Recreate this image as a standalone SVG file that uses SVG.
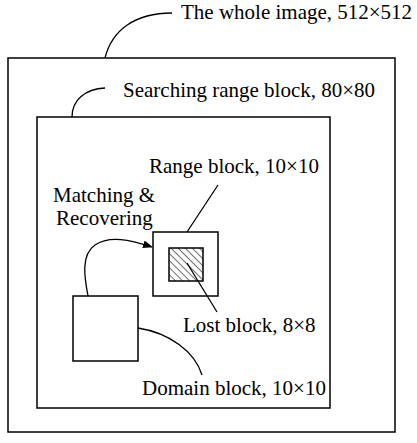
<svg xmlns="http://www.w3.org/2000/svg" width="417" height="443" viewBox="0 0 417 443">
  <style>
    .box { fill: #fff; stroke: #000; stroke-width: 1.5; }
    .lead { fill: none; stroke: #000; stroke-width: 1.3; }
    text { font-family: "Liberation Serif", "Times New Roman", serif; font-size: 21px; fill: #000; }
  </style>
  <defs>
    <pattern id="hatch" patternUnits="userSpaceOnUse" width="5" height="5" patternTransform="rotate(-45)">
      <line x1="0" y1="0" x2="0" y2="5" stroke="#000" stroke-width="1.1"/>
    </pattern>
    <marker id="arrow" viewBox="0 0 10 10" refX="9" refY="5" markerWidth="10" markerHeight="10" markerUnits="userSpaceOnUse" orient="auto">
      <path d="M0,1 L10,5 L0,9 z" fill="#000"/>
    </marker>
  </defs>
  <rect width="417" height="443" fill="#fff"/>

  <g id="whole-image">
    <rect class="box" x="8" y="58" width="387" height="374"/>
  </g>
  <g id="searching-range">
    <rect class="box" x="37" y="117" width="293" height="291"/>
  </g>
  <g id="range-block">
    <rect class="box" x="153" y="232" width="65" height="64"/>
  </g>
  <g id="lost-block">
    <rect x="169" y="248" width="34" height="33" fill="url(#hatch)" stroke="#000" stroke-width="1.5"/>
  </g>
  <g id="domain-block">
    <rect class="box" x="73" y="296" width="65" height="65"/>
  </g>

  <g id="connectors">
    <path class="lead" d="M105,58 C112,30 135,13 172,13"/>
    <path class="lead" d="M72,117 C72,100 85,89 105,88"/>
    <line class="lead" x1="218" y1="185" x2="187" y2="232"/>
    <line class="lead" x1="187" y1="263" x2="217" y2="312"/>
    <path class="lead" d="M138,328 C170,333 195,352 202,375"/>
    <path class="lead" d="M88,296 C85,280 80,255 95,245 C110,235 130,240 152,247" marker-end="url(#arrow)"/>
  </g>

  <g id="labels">
    <text x="181" y="19">The whole image, 512×512</text>
    <text x="123" y="97">Searching range block, 80×80</text>
    <text x="149" y="173">Range block, 10×10</text>
    <text x="53" y="202">Matching &amp;</text>
    <text x="56" y="225">Recovering</text>
    <text x="183" y="332">Lost block, 8×8</text>
    <text x="142" y="395">Domain block, 10×10</text>
  </g>
</svg>
